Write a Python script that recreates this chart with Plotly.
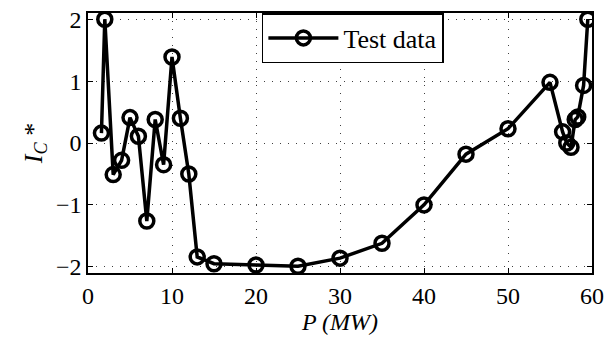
import plotly.graph_objects as go

p_mw = [1.6, 2, 3, 4, 5, 6, 7, 8, 9, 10, 11, 12, 13, 15, 20, 25, 30, 35, 40, 45, 50, 55,
        56.5, 57, 57.5, 58, 58.3, 59, 59.5]
ic_star = [0.16, 2.0, -0.51, -0.28, 0.41, 0.11, -1.26, 0.38, -0.35, 1.39, 0.40, -0.50, -1.84,
           -1.95, -1.97, -1.99, -1.86, -1.62, -1.0, -0.18, 0.23, 0.98,
           0.18, 0.0, -0.07, 0.38, 0.42, 0.93, 2.0]
x_ticks = [0, 10, 20, 30, 40, 50, 60]
y_ticks = [-2, -1, 0, 1, 2]
y_tick_labels = ["\u22122", "\u22121", "0", "1", "2"]

font = "Liberation Serif"

fig = go.Figure()
fig.add_trace(go.Scatter(
    x=p_mw, y=ic_star, mode="lines+markers", name="Test data",
    line=dict(color="black", width=3.5),
    marker=dict(symbol="circle-open", size=14, color="black", line=dict(width=3.5, color="black")),
))

axis_common = dict(
    showline=True, linecolor="black", linewidth=1.5, mirror="ticks",
    ticks="inside", ticklen=5, tickcolor="black",
    showgrid=True, gridcolor="rgba(0,0,0,0.75)", griddash="1px,7px", gridwidth=1,
    zeroline=False, tickfont=dict(family=font, size=24, color="black"),
)

fig.update_layout(
    width=611, height=338,
    margin=dict(l=88, r=13, t=7, b=65),
    paper_bgcolor="white", plot_bgcolor="white",
    font=dict(family=font, color="black", size=24),
    showlegend=True,
    legend=dict(x=0.345, y=1.0, xanchor="left", yanchor="top",
                bordercolor="black", borderwidth=1.5, bgcolor="white",
                font=dict(family=font, size=26), itemwidth=70),
    xaxis=dict(range=[0, 60], tickvals=x_ticks,
               title=dict(text="<i>P (MW)</i>", font=dict(family=font, size=24), standoff=0),
               **axis_common),
    yaxis=dict(range=[-2.1, 2.1], tickvals=y_ticks, ticktext=y_tick_labels,
               title=dict(text="<i>I</i><sub><i>C</i></sub> *", font=dict(family=font, size=26), standoff=6),
               **axis_common),
)

fig.write_html("out.html")
